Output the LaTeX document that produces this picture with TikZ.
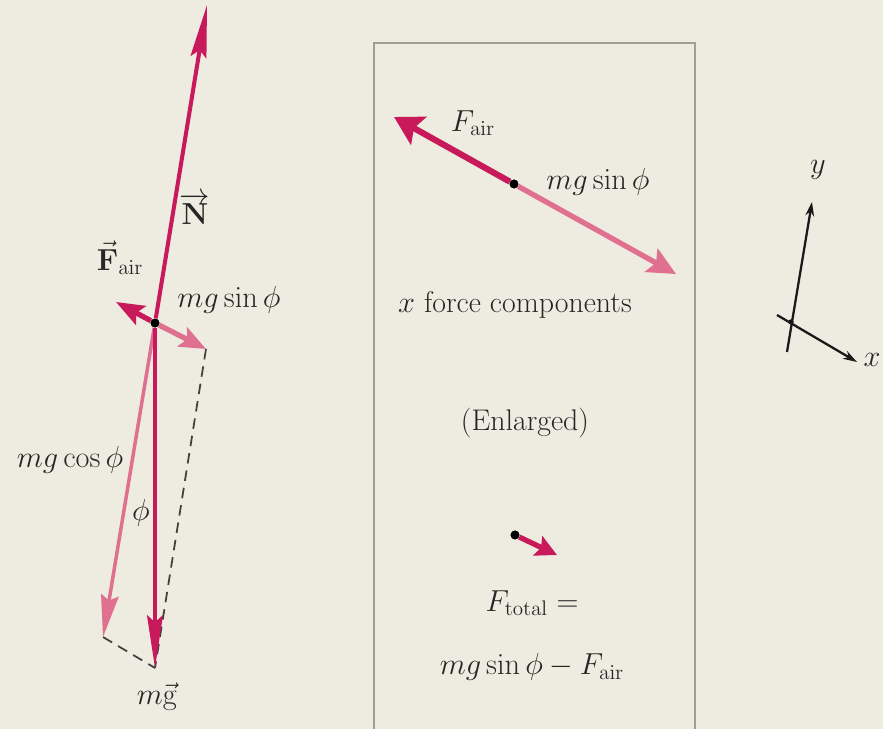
\documentclass[tikz,border=0pt]{standalone}
\usepackage{xcolor}
\definecolor{Paper}{HTML}{EEEBE0}
\definecolor{ForceDark}{HTML}{C8195A}
\definecolor{ForceLight}{HTML}{E0708F}
\definecolor{BoxGray}{HTML}{A09E96}
\usepackage{tikz}
\usetikzlibrary{arrows.meta,positioning,calc}
\usepackage{amsmath}
\usepackage{amssymb}
\newcommand{\lblsize}{\fontsize{17}{20}\selectfont}

\begin{document}
\begin{tikzpicture}[x=0.02cm,y=-0.02cm,
lbl/.style={font=\lblsize,inner sep=0pt,text=black!85},
dot/.style={circle,fill=black,inner sep=0pt,minimum size=5pt},
darkvec/.style={draw=ForceDark,fill=ForceDark,line width=2.3pt,-{Stealth[length=30pt,width=9pt,inset=4pt]}},
lightvec/.style={draw=ForceLight,fill=ForceLight,line width=2pt,-{Stealth[length=24pt,width=10pt,inset=3pt]}},
shortdark/.style={draw=ForceDark,fill=ForceDark,line width=3pt,-{Stealth[length=16pt,width=12pt,inset=3pt]}},
shortlight/.style={draw=ForceLight,fill=ForceLight,line width=3pt,-{Stealth[length=15pt,width=12pt,inset=3pt]}},
guide/.style={draw=black!75,line width=1pt,dash pattern=on 6pt off 4pt},
axis/.style={draw=black!90,line width=1.3pt,-{Stealth[length=8pt,width=5pt]}}]
\fill[Paper] (0,0) rectangle (883,729);
\useasboundingbox (0,0) rectangle (883,729);

% free body diagram
\node[dot] (c) at (155,323) {};
\coordinate (ntip) at (207,5);
\coordinate (mgtip) at (155,668);
\coordinate (fairtip) at (116,302);
\coordinate (sintip) at (206,349);
\coordinate (costip) at (103,637);
\draw[guide] (sintip) -- (mgtip);
\draw[guide] (costip) -- (mgtip);
\draw[lightvec] (c) -- (costip);
\draw[shortlight] (c) -- (sintip);
\draw[darkvec] (c) -- (mgtip);
\draw[darkvec] (c) -- (ntip);
\draw[shortdark] (c) -- (fairtip);
\node[dot] at (c) {};
\node[lbl] (nlab) at (195,209) {$\overrightarrow{\mathbf{N}}$};
\node[lbl] (fairlab) at (120,258) {$\vec{\mathbf{F}}_{\mathrm{air}}$};
\node[lbl] (sinlab) at (229,300) {$mg\sin\phi$};
\node[lbl] (coslab) at (70,460) {$mg\cos\phi$};
\node[lbl] (philab) at (141,513) {$\phi$};
\node[lbl] (mglab) at (157,697) {$m\vec{\mathrm{g}}$};

% enlarged x components
\draw[BoxGray,line width=1.2pt] (374,729) -- (374,43) -- (695,43) -- (695,729);
\node[dot] (bc) at (514,184) {};
\coordinate (bfair) at (394,117);
\coordinate (bsin) at (676,274);
\draw[shortlight,-{Stealth[length=16pt,width=15pt,inset=3pt]}] (bc) -- (bsin);
\draw[shortdark,line width=3.5pt,-{Stealth[length=16pt,width=18pt,inset=3pt]}] (bc) -- (bfair);
\node[dot] at (bc) {};
\node[lbl] (bfairlab) at (473,123) {$F_{\mathrm{air}}$};
\node[lbl] (bsinlab) at (598,182) {$mg\sin\phi$};
\node[lbl] (xcomp) at (515,305) {$x$ force components};
\node[lbl] (enl) at (525,423) {(Enlarged)};
\node[dot] (sc) at (515,535) {};
\coordinate (stip) at (557,555);
\draw[shortdark,-{Stealth[length=12pt,width=12pt,inset=2pt]}] (sc) -- (stip);
\node[dot] at (sc) {};
\node[lbl] (ftot) at (532,603) {$F_{\mathrm{total}} =$};
\node[lbl] (fdiff) at (532,667) {$mg\sin\phi - F_{\mathrm{air}}$};

% axes
\node[dot,minimum size=3pt] (o) at (791,322) {};
\coordinate (ytail) at (787,352);
\coordinate (ytip) at (812,202);
\coordinate (xtail) at (777,315);
\coordinate (xtip) at (857,362);
\draw[axis] (ytail) -- (ytip);
\draw[axis] (xtail) -- (xtip);
\node[lbl] (ylab) at (818,170) {$y$};
\node[lbl] (xlab) at (872,360) {$x$};
\end{tikzpicture}
\end{document}
